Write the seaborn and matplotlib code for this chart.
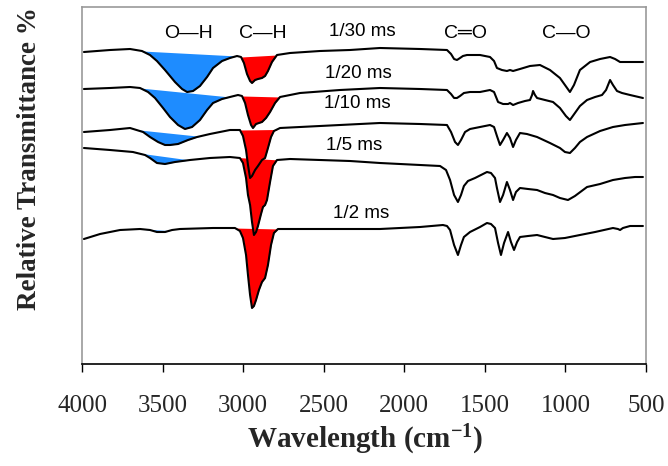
import numpy as np
import pandas as pd
import matplotlib
matplotlib.use("Agg")
import matplotlib.pyplot as plt
import seaborn as sns

# ---------------- data ----------------
samples = ["1/30 ms", "1/20 ms", "1/10 ms", "1/5 ms", "1/2 ms"]

wn_30 = [3988, 3826, 3702, 3628, 3578, 3535, 3485, 3423, 3379, 3348, 3311, 3268, 3224, 3187, 3131, 3082, 3038,
         3013, 2995, 2976, 2957, 2945, 2926, 2908, 2883, 2864, 2846, 2821, 2790, 2709, 2523, 2337, 2151, 1902,
         1735, 1710, 1691, 1673, 1654, 1636, 1611, 1530, 1468, 1443, 1425, 1394, 1363, 1344, 1325, 1282, 1220,
         1158, 1096, 1034, 1003, 972, 947, 910, 847, 785, 723, 692, 661, 599, 519]
t_30 = [312, 314, 315, 313, 309, 303, 294, 282, 275, 272, 273, 278, 287, 296, 303, 306, 308,
        307, 301, 290, 283, 281, 284, 285, 286, 288, 293, 302, 309, 311, 313, 314, 316, 315,
        314, 310, 305, 304, 306, 308, 309, 309, 307, 303, 296, 294, 293, 294, 293, 295, 298,
        299, 294, 286, 279, 272, 279, 294, 302, 305, 307, 305, 302, 302, 302]

wn_20 = [3988, 3826, 3702, 3640, 3590, 3547, 3497, 3454, 3404, 3361, 3317, 3268, 3224, 3187, 3131, 3082, 3032,
         3007, 2988, 2970, 2951, 2939, 2920, 2902, 2883, 2858, 2833, 2802, 2771, 2647, 2399, 2151, 1902, 1735,
         1710, 1691, 1673, 1654, 1630, 1592, 1530, 1468, 1443, 1418, 1387, 1356, 1344, 1325, 1294, 1251, 1220,
         1207, 1201, 1189, 1176, 1127, 1077, 1034, 997, 972, 941, 910, 866, 816, 773, 748, 723, 705, 680, 649,
         599, 519]
t_20 = [275, 276, 277, 276, 272, 266, 256, 247, 239, 235, 237, 244, 254, 261, 265, 267, 269,
        268, 261, 249, 239, 236, 240, 241, 242, 246, 252, 261, 267, 271, 274, 276, 275, 274,
        270, 266, 266, 268, 271, 272, 272, 274, 272, 262, 260, 260, 261, 259, 261, 263, 264,
        269, 273, 269, 266, 264, 262, 256, 248, 244, 251, 258, 264, 267, 269, 274, 284, 279, 273, 271,
        269, 266]

wn_10 = [3988, 3826, 3702, 3621, 3578, 3528, 3485, 3454, 3404, 3342, 3286, 3206, 3144, 3082, 3020, 3001, 2982,
         2970, 2957, 2945, 2926, 2908, 2883, 2864, 2846, 2827, 2809, 2771, 2647, 2399, 2151, 1902, 1735, 1710,
         1685, 1667, 1648, 1623, 1592, 1530, 1468, 1443, 1425, 1406, 1387, 1363, 1344, 1325, 1307, 1282, 1239,
         1176, 1096, 1034, 1003, 972, 941, 910, 866, 785, 705, 630, 519]
t_10 = [232, 234, 236, 232, 227, 222, 219, 219, 220, 224, 227, 230, 232, 234, 234, 228, 214,
        199, 186, 188, 194, 198, 204, 206, 216, 227, 233, 236, 237, 239, 241, 240, 239, 232,
        222, 219, 224, 232, 235, 237, 239, 237, 228, 219, 224, 231, 226, 217, 224, 231, 230,
        227, 221, 216, 212, 211, 216, 222, 227, 233, 237, 239, 241]

wn_5 = [3988, 3826, 3684, 3609, 3578, 3535, 3485, 3423, 3330, 3206, 3082, 3020, 3001, 2982, 2970, 2957, 2945,
        2933, 2920, 2908, 2889, 2877, 2864, 2852, 2833, 2815, 2790, 2709, 2523, 2337, 2151, 1902, 1778, 1741,
        1716, 1691, 1667, 1648, 1630, 1605, 1561, 1487, 1462, 1437, 1425, 1406, 1387, 1363, 1344, 1325, 1307,
        1282, 1232, 1176, 1127, 1077, 1034, 984, 941, 866, 785, 705, 630, 568, 519]
t_5 = [216, 214, 212, 209, 206, 201, 200, 202, 204, 206, 207, 206, 201, 186, 169, 159, 142,
       129, 132, 138, 150, 157, 159, 164, 182, 198, 204, 205, 204, 203, 201, 199, 198, 194,
       184, 169, 162, 169, 178, 183, 186, 192, 191, 186, 176, 162, 169, 182, 174, 164, 172,
       176, 175, 174, 171, 169, 166, 164, 168, 177, 180, 184, 186, 187, 187]

wn_2 = [3988, 3888, 3764, 3640, 3578, 3535, 3485, 3441, 3392, 3187, 3051, 3020, 3001, 2982, 2970, 2957, 2945,
        2933, 2920, 2902, 2883, 2864, 2846, 2827, 2809, 2784, 2647, 2399, 2151, 1902, 1760, 1735, 1716, 1691,
        1667, 1648, 1630, 1592, 1530, 1487, 1462, 1437, 1418, 1400, 1381, 1356, 1338, 1319, 1300, 1282, 1232,
        1176, 1127, 1077, 1003, 910, 816, 705, 674, 661, 643, 599, 519]
t_2 = [125, 130, 134, 135, 134, 132, 132, 134, 135, 136, 136, 133, 126, 109, 89, 69, 56,
       58, 64, 74, 82, 86, 99, 119, 131, 135, 135, 135, 135, 137, 139, 138, 134, 119,
       109, 119, 127, 132, 137, 141, 140, 136, 121, 109, 121, 132, 122, 114, 122, 127, 128,
       129, 127, 125, 126, 129, 132, 136, 135, 134, 136, 138, 138]

# highlighted bands (start, end wavenumber) per sample
oh_band = [(3628, 3038), (3650, 3082), (3671, 3268), (3671, 3330), (3640, 3454)]
ch_band = [(3013, 2790), (3007, 2771), (3020, 2790), (3069, 2784), (3063, 2778)]

band_labels = ["O\u2014H", "C\u2014H", "C\u2550O", "C\u2014O"]
band_pos = [3342, 2877, 1623, 997]
sample_label_pos = [(2262, 332), (2287, 290), (2293, 260), (2312, 218), (2269, 151)]

x_ticks = [4000, 3500, 3000, 2500, 2000, 1500, 1000, 500]

# ---------------- figure ----------------
sns.set_theme(style="white")
plt.rcParams["font.family"] = ["Liberation Sans", "DejaVu Sans"]
plt.rcParams["mathtext.fontset"] = "custom"
plt.rcParams["mathtext.rm"] = "Liberation Serif:bold"
plt.rcParams["mathtext.bf"] = "Liberation Serif:bold"
plt.rcParams["mathtext.default"] = "rm"

fig = plt.figure(figsize=(6.68, 4.66), dpi=100)
ax = fig.add_axes([82 / 668, 102 / 466, 564 / 668, 357 / 466])

wns = [wn_30, wn_20, wn_10, wn_5, wn_2]
ts = [t_30, t_20, t_10, t_5, t_2]
df = pd.concat([pd.DataFrame({"wavenumber": w, "transmittance": t, "sample": s})
                for w, t, s in zip(wns, ts, samples)], ignore_index=True)


def shade(w, t, band, color):
    hi, lo = band
    xs = np.linspace(lo, hi, 300)
    curve = np.interp(xs, w[::-1], t[::-1])
    chord = np.interp(xs, [lo, hi], [curve[0], curve[-1]])
    ax.fill_between(xs, curve, np.maximum(chord, curve), color=color, lw=0, zorder=1)


for w, t, ob, cb in zip(wns, ts, oh_band, ch_band):
    shade(w, t, ob, "#1e8cff")
    shade(w, t, cb, "#ff0000")

sns.lineplot(data=df, x="wavenumber", y="transmittance", units="sample", estimator=None,
             color="black", lw=1.5, ax=ax, sort=False, zorder=3)

ax.set_xlim(4000, 500)
ax.set_ylim(0, 357)
ax.set_xticks(x_ticks)
ax.set_xticklabels([str(v) for v in x_ticks], fontfamily="Liberation Serif", fontsize=18)
ax.set_yticks([])
ax.tick_params(axis="x", direction="out", length=6, width=1, color="black", pad=16, bottom=True)
ax.set_xlabel("")
ax.set_ylabel("")

for side in ["left", "top", "right"]:
    ax.spines[side].set_color("#999999")
    ax.spines[side].set_linewidth(1.2)
ax.spines["bottom"].set_color("black")
ax.spines["bottom"].set_linewidth(1.2)

for lab, x in zip(band_labels, band_pos):
    ax.text(x, 331, lab, ha="center", va="center", fontsize=14, color="black",
            family=["Liberation Sans", "DejaVu Sans"])
for s, (x, y) in zip(samples, sample_label_pos):
    ax.text(x, y, s, ha="center", va="center", fontsize=13.5, color="black")

fig.text(30 / 668, (466 - 159) / 466, "Relative Transmittance %", rotation=90, ha="center", va="center",
         fontfamily="Liberation Serif", fontweight="bold", fontsize=19.5)
fig.text(365 / 668, (466 - 440) / 466, "Wavelength (cm$^{-1}$)", ha="center", va="center",
         fontfamily="Liberation Serif", fontweight="bold", fontsize=21)

fig.savefig("out.png", dpi=100)
